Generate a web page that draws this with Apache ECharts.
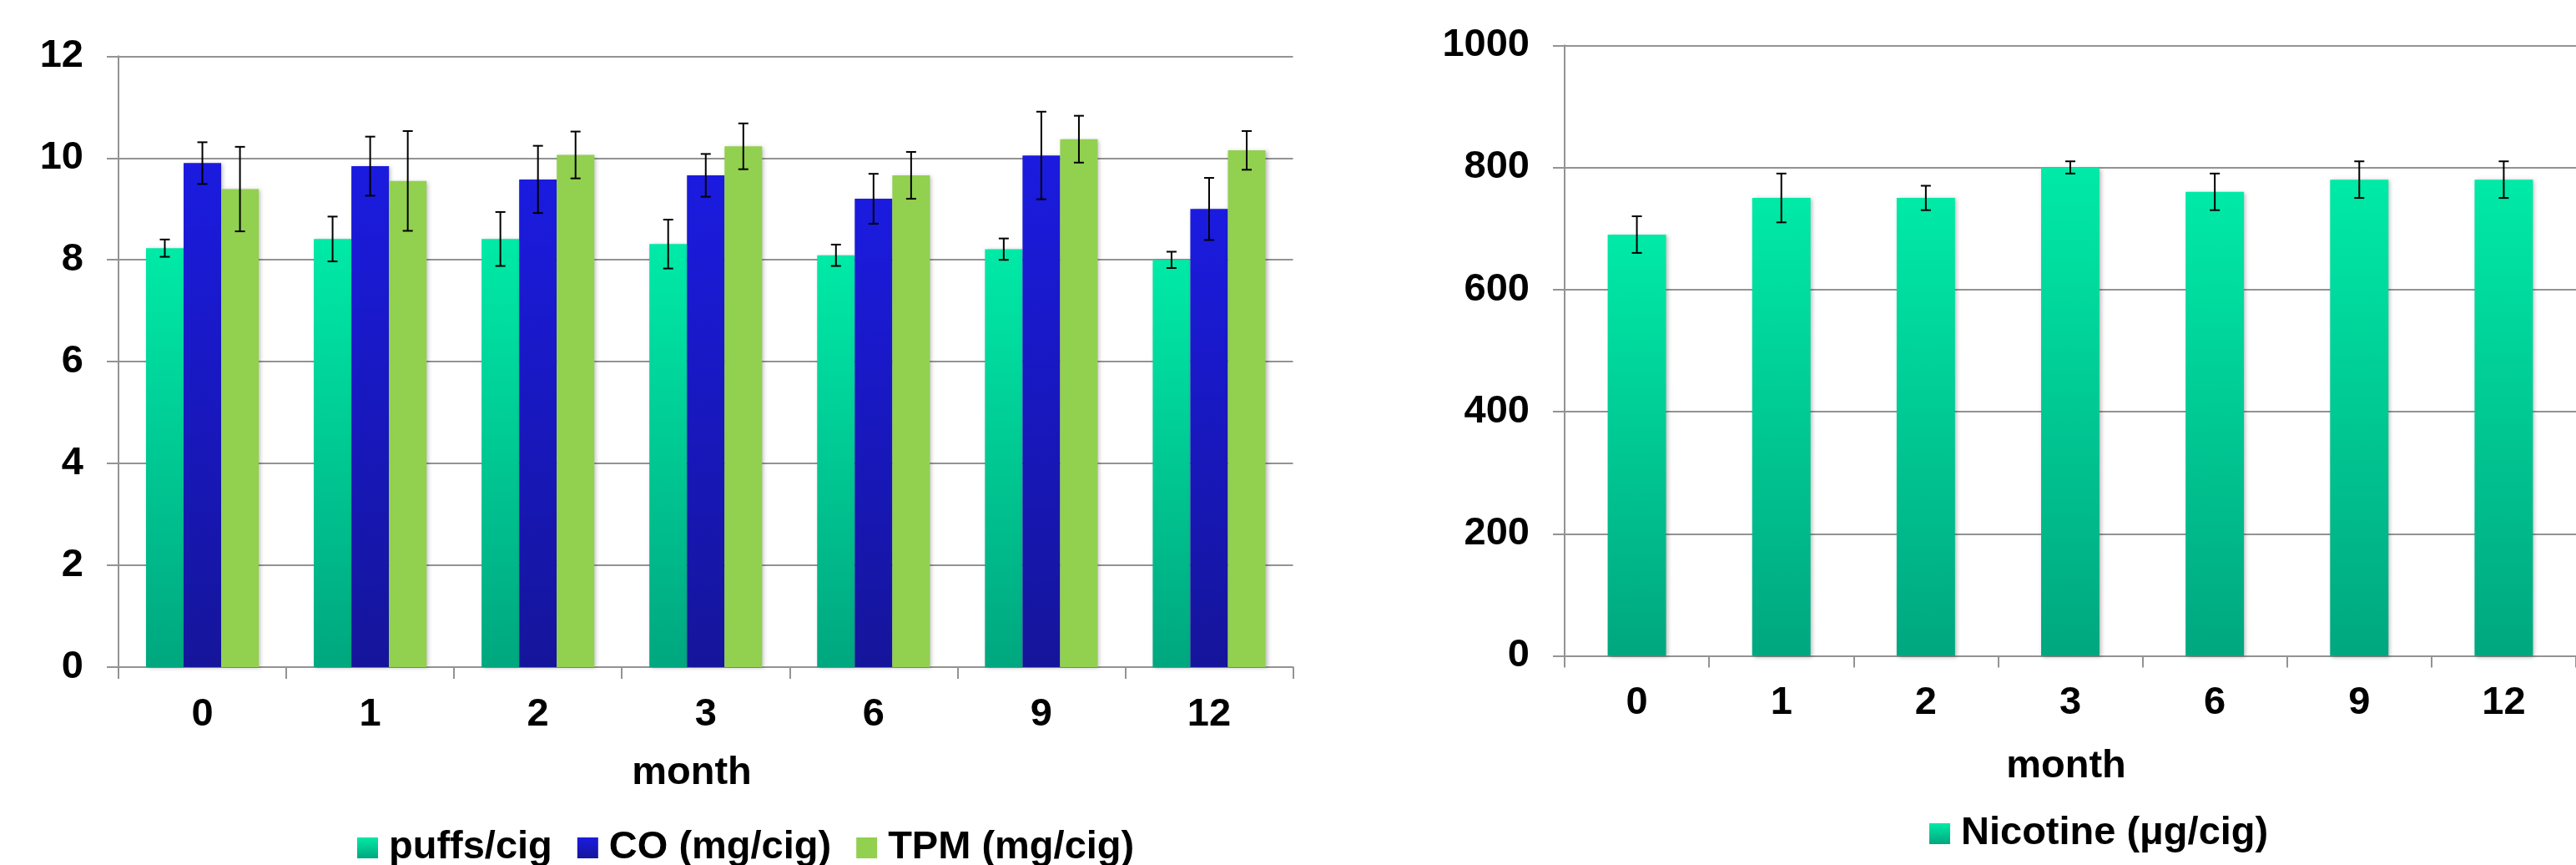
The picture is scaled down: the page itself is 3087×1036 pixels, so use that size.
<!DOCTYPE html>
<html>
<head>
<meta charset="utf-8">
<script src="https://cdn.jsdelivr.net/npm/echarts@6/dist/echarts.min.js"></script>
<style>
html,body{margin:0;padding:0;background:#fff;}
#chart{width:3087px;height:1036px;}
</style>
</head>
<body>
<div id="chart"></div>
<script>
// ---- data ----
const months = ['0', '1', '2', '3', '6', '9', '12'];
const puffs = [8.23, 8.41, 8.41, 8.31, 8.09, 8.21, 8.00];
const puffsErr = [0.17, 0.44, 0.53, 0.48, 0.21, 0.21, 0.16];
const co = [9.90, 9.84, 9.58, 9.66, 9.20, 10.05, 9.00];
const coErr = [0.41, 0.58, 0.66, 0.42, 0.49, 0.86, 0.61];
const tpm = [9.39, 9.55, 10.06, 10.23, 9.66, 10.37, 10.15];
const tpmErr = [0.83, 0.98, 0.46, 0.45, 0.46, 0.46, 0.38];
const nicotine = [690, 750, 750, 800, 760, 780, 780];
const nicotineErr = [30, 40, 20, 10, 30, 30, 30];
const seriesNamesLeft = ['puffs/cig', 'CO (mg/cig)', 'TPM (mg/cig)'];
const seriesNameRight = 'Nicotine (μg/cig)';
const xAxisName = 'month';

// ---- styles ----
const FONT = '"Liberation Sans", Arial, sans-serif';
const FS = 47;
const gridColor = '#939393';
const grad = (a, b) => new echarts.graphic.LinearGradient(0, 0, 0, 1, [{offset: 0, color: a}, {offset: 1, color: b}]);
const tealGrad = () => grad('#00EAA7', '#00A77F');
const blueGrad = () => grad('#1B1BE0', '#15159B');
const greenCol = '#92D050';
const shadow = {shadowBlur: 5, shadowColor: 'rgba(0,0,0,0.28)', shadowOffsetX: 2, shadowOffsetY: 1};

const LEFT_BAR_FRAC = 0.224;
const RIGHT_BAR_FRAC = 0.404;

function errRender(idx, n, frac) {
  return function (params, api) {
    const i = api.value(0), v = api.value(1), e = api.value(2);
    const bw = api.size([1, 0])[0];
    const c = api.coord([i, v]);
    const x = c[0] + (idx - (n - 1) / 2) * bw * frac;
    const top = api.coord([i, v + e])[1];
    const bot = api.coord([i, v - e])[1];
    const hw = 6;
    const st = {stroke: '#000', lineWidth: 2};
    return {
      type: 'group',
      children: [
        {type: 'line', shape: {x1: x, y1: top, x2: x, y2: bot}, style: st},
        {type: 'line', shape: {x1: x - hw, y1: top, x2: x + hw, y2: top}, style: st},
        {type: 'line', shape: {x1: x - hw, y1: bot, x2: x + hw, y2: bot}, style: st}
      ]
    };
  };
}
const errData = (vals, errs) => vals.map((v, i) => [i, v, errs[i]]);

const axisLabelStyle = {fontSize: FS, fontWeight: 'bold', color: '#000', fontFamily: FONT};

function xAx(gridIndex) {
  return {
    type: 'category', gridIndex: gridIndex, data: months,
    axisLine: {show: true, lineStyle: {color: gridColor, width: 2}},
    axisTick: {show: true, length: 14, alignWithLabel: false, lineStyle: {color: gridColor, width: 2}},
    axisLabel: Object.assign({margin: 33, interval: 0}, axisLabelStyle),
    splitLine: {show: false}
  };
}
function yAx(gridIndex, max, interval) {
  return {
    type: 'value', gridIndex: gridIndex, min: 0, max: max, interval: interval,
    axisLine: {show: true, lineStyle: {color: gridColor, width: 2}},
    axisTick: {show: true, length: 14, lineStyle: {color: gridColor, width: 2}},
    axisLabel: Object.assign({margin: 42, formatter: v => String(v)}, axisLabelStyle),
    splitLine: {show: true, lineStyle: {color: gridColor, width: 2}}
  };
}

const chart = echarts.init(document.getElementById('chart'), null, {renderer: 'canvas'});
const option = {
  animation: false,
  backgroundColor: '#ffffff',
  grid: [
    {left: 142, top: 67.3, width: 1407.5, height: 731.8},
    {left: 1875, top: 54.3, width: 1248, height: 731.2}
  ],
  xAxis: [xAx(0), xAx(1)],
  yAxis: [yAx(0, 12, 2), yAx(1, 1000, 200)],
  legend: [
    {
      data: seriesNamesLeft, left: 423, top: 987, orient: 'horizontal',
      icon: 'rect', itemWidth: 25, itemHeight: 25, itemGap: 30,
      textStyle: {fontSize: FS, fontWeight: 'bold', color: '#000', fontFamily: FONT, padding: [0, 0, 0, 8]}
    },
    {
      data: [seriesNameRight], left: 2307, top: 970, orient: 'horizontal',
      icon: 'rect', itemWidth: 25, itemHeight: 25, itemGap: 30,
      textStyle: {fontSize: FS, fontWeight: 'bold', color: '#000', fontFamily: FONT, padding: [0, 0, 0, 8]}
    }
  ],
  graphic: [
    {type: 'text', x: 829, y: 926, style: {text: xAxisName, align: 'center', verticalAlign: 'middle', fontSize: FS, fontWeight: 'bold', fontFamily: FONT, fill: '#000'}},
    {type: 'text', x: 2476, y: 918, style: {text: xAxisName, align: 'center', verticalAlign: 'middle', fontSize: FS, fontWeight: 'bold', fontFamily: FONT, fill: '#000'}}
  ],
  series: [
    {name: seriesNamesLeft[0], type: 'bar', xAxisIndex: 0, yAxisIndex: 0, data: puffs, barWidth: (LEFT_BAR_FRAC * 100) + '%', barGap: '0%',
     itemStyle: Object.assign({color: tealGrad()}, shadow)},
    {name: seriesNamesLeft[1], type: 'bar', xAxisIndex: 0, yAxisIndex: 0, data: co, barWidth: (LEFT_BAR_FRAC * 100) + '%', barGap: '0%',
     itemStyle: Object.assign({color: blueGrad()}, shadow)},
    {name: seriesNamesLeft[2], type: 'bar', xAxisIndex: 0, yAxisIndex: 0, data: tpm, barWidth: (LEFT_BAR_FRAC * 100) + '%', barGap: '0%',
     itemStyle: Object.assign({color: greenCol}, shadow)},
    {type: 'custom', xAxisIndex: 0, yAxisIndex: 0, data: errData(puffs, puffsErr), renderItem: errRender(0, 3, LEFT_BAR_FRAC), z: 10, silent: true},
    {type: 'custom', xAxisIndex: 0, yAxisIndex: 0, data: errData(co, coErr), renderItem: errRender(1, 3, LEFT_BAR_FRAC), z: 10, silent: true},
    {type: 'custom', xAxisIndex: 0, yAxisIndex: 0, data: errData(tpm, tpmErr), renderItem: errRender(2, 3, LEFT_BAR_FRAC), z: 10, silent: true},
    {name: seriesNameRight, type: 'bar', xAxisIndex: 1, yAxisIndex: 1, data: nicotine, barWidth: (RIGHT_BAR_FRAC * 100) + '%',
     itemStyle: Object.assign({color: tealGrad()}, shadow)},
    {type: 'custom', xAxisIndex: 1, yAxisIndex: 1, data: errData(nicotine, nicotineErr), renderItem: errRender(0, 1, RIGHT_BAR_FRAC), z: 10, silent: true}
  ]
};
chart.setOption(option);
</script>
</body>
</html>
